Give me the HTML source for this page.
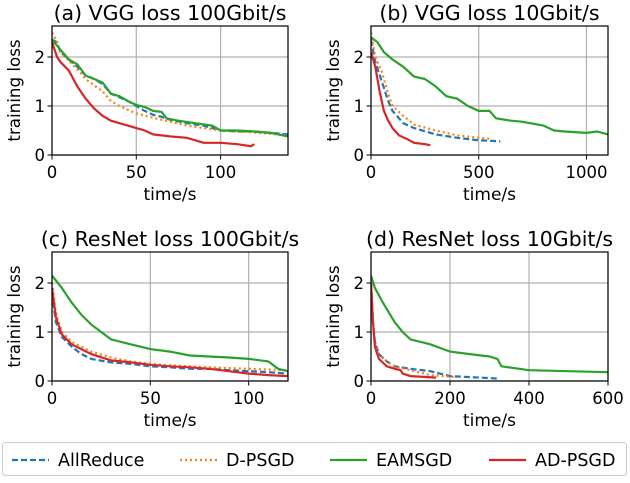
<!DOCTYPE html>
<html><head><meta charset="utf-8"><style>
body{margin:0;background:#fff;}
svg text{font-family:"DejaVu Sans","Liberation Sans",sans-serif;fill:#000;}
</style></head><body>
<svg id="fig" width="630" height="478" viewBox="0 0 630 478" xmlns="http://www.w3.org/2000/svg"></svg>
<script>
const seriesNames = ["AllReduce","D-PSGD","EAMSGD","AD-PSGD"];
const colors = ["#1f77b4","#ff7f0e","#2ca02c","#d62728"];
const dashes = ["6,3","2,3","",""];
const titles = ["(a) VGG loss 100Gbit/s","(b) VGG loss 10Gbit/s","(c) ResNet loss 100Gbit/s","(d) ResNet loss 10Gbit/s"];
const xMaxes = [140,1100,120,600];
const xTicksA = [0,50,100];
const xTicksB = [0,500,1000];
const xTicksC = [0,50,100];
const xTicksD = [0,200,400,600];
const yTicks = [0,1,2];
const aAllReduce=[[0,2.35],[3,2.3],[5,2.1],[10,1.95],[15,1.8],[20,1.62],[25,1.55],[30,1.45],[35,1.25],[40,1.18],[45,1.1],[50,1.0],[55,0.9],[60,0.82],[65,0.78],[70,0.72],[80,0.65],[90,0.6],[100,0.5],[110,0.48],[120,0.48],[130,0.45],[140,0.42]];
const aDPSGD=[[0,2.5],[3,2.3],[5,2.1],[10,1.92],[15,1.75],[20,1.55],[25,1.42],[30,1.3],[35,1.1],[40,1.0],[45,0.92],[50,0.85],[60,0.76],[70,0.68],[80,0.6],[90,0.55],[100,0.5],[110,0.48],[120,0.46],[130,0.43],[140,0.4]];
const aEAMSGD=[[0,2.35],[5,2.15],[10,1.95],[15,1.85],[20,1.62],[25,1.55],[30,1.48],[35,1.25],[40,1.2],[45,1.1],[50,1.02],[55,0.98],[60,0.9],[65,0.88],[68,0.75],[75,0.7],[85,0.65],[95,0.6],[100,0.5],[110,0.5],[120,0.48],[130,0.45],[140,0.38]];
const aADPSGD=[[0,2.3],[3,2.0],[5,1.9],[10,1.72],[15,1.4],[20,1.15],[25,0.95],[30,0.8],[35,0.7],[40,0.65],[45,0.6],[50,0.55],[55,0.5],[60,0.42],[70,0.38],[80,0.35],[90,0.25],[100,0.25],[110,0.22],[118,0.18],[120,0.22]];
const bAllReduce=[[0,2.35],[20,1.9],[50,1.5],[80,1.1],[100,0.9],[150,0.65],[200,0.55],[300,0.42],[400,0.35],[500,0.3],[600,0.28]];
const bDPSGD=[[0,2.5],[20,2.0],[50,1.7],[80,1.25],[100,1.0],[150,0.8],[200,0.62],[300,0.5],[400,0.4],[500,0.35],[550,0.33]];
const bEAMSGD=[[0,2.4],[30,2.3],[60,2.1],[100,1.95],[150,1.8],[200,1.6],[250,1.55],[300,1.4],[350,1.2],[400,1.15],[450,1.0],[500,0.9],[550,0.9],[580,0.75],[650,0.7],[700,0.68],[800,0.6],[850,0.5],[900,0.48],[1000,0.45],[1050,0.48],[1100,0.42]];
const bADPSGD=[[0,2.1],[20,1.8],[40,1.3],[60,0.9],[80,0.7],[100,0.55],[130,0.4],[170,0.32],[200,0.25],[250,0.22],[275,0.2]];
const cAllReduce=[[0,1.8],[2,1.2],[5,0.9],[10,0.7],[15,0.55],[20,0.45],[30,0.38],[40,0.35],[50,0.3],[60,0.28],[70,0.25],[80,0.25],[90,0.22],[100,0.2],[110,0.18],[120,0.15]];
const cDPSGD=[[0,2.0],[2,1.4],[5,1.0],[10,0.8],[20,0.6],[30,0.48],[40,0.4],[50,0.35],[60,0.32],[80,0.28],[100,0.25],[120,0.22]];
const cEAMSGD=[[0,2.15],[5,1.9],[10,1.6],[15,1.35],[20,1.15],[25,1.0],[30,0.85],[40,0.75],[50,0.65],[60,0.6],[70,0.52],[80,0.5],[90,0.48],[100,0.45],[110,0.4],[115,0.25],[120,0.2]];
const cADPSGD=[[0,1.9],[2,1.3],[5,0.95],[10,0.75],[20,0.55],[30,0.42],[40,0.38],[50,0.33],[60,0.3],[70,0.28],[80,0.25],[90,0.2],[100,0.15],[110,0.12],[120,0.1]];
const dAllReduce=[[0,2.0],[5,1.2],[10,0.8],[20,0.55],[40,0.4],[60,0.3],[100,0.25],[150,0.2],[200,0.1],[250,0.08],[325,0.05]];
const dDPSGD=[[0,2.0],[5,1.2],[10,0.8],[20,0.55],[40,0.4],[60,0.3],[100,0.22],[150,0.12],[215,0.08]];
const dEAMSGD=[[0,2.15],[10,1.9],[30,1.6],[60,1.2],[80,1.0],[100,0.85],[150,0.75],[200,0.6],[250,0.55],[300,0.5],[320,0.45],[330,0.3],[400,0.22],[500,0.2],[600,0.18]];
const dADPSGD=[[0,2.0],[5,1.2],[10,0.7],[20,0.45],[40,0.3],[60,0.25],[75,0.22],[80,0.15],[100,0.1],[165,0.07]];

const NS="http://www.w3.org/2000/svg";
const svg=document.getElementById('fig');
function mk(tag,attrs,parent){const e=document.createElementNS(NS,tag);for(const k in attrs)e.setAttribute(k,attrs[k]);(parent||svg).appendChild(e);return e;}
const panels=[
 {L:52,R:288,T:26,B:155,ticks:xTicksA,data:[aAllReduce,aDPSGD,aEAMSGD,aADPSGD]},
 {L:371,R:608,T:26,B:155,ticks:xTicksB,data:[bAllReduce,bDPSGD,bEAMSGD,bADPSGD]},
 {L:52,R:288,T:252,B:381,ticks:xTicksC,data:[cAllReduce,cDPSGD,cEAMSGD,cADPSGD]},
 {L:371,R:608,T:252,B:381,ticks:xTicksD,data:[dAllReduce,dDPSGD,dEAMSGD,dADPSGD]}
];
const YMAX=(155-26)/49;
panels.forEach((p,i)=>{
 const g=mk('g',{});
 
 
 const xs=v=>p.L+(v/xMaxes[i])*(p.R-p.L);
 const ys=v=>p.B-(v/YMAX)*(p.B-p.T);
 p.ticks.forEach(t=>{
  const x=xs(t);
  const gl=mk('line',{x1:x,x2:x,y1:p.T,y2:p.B,stroke:'#b0b0b0','stroke-width':1.2},g);
  
  
  mk('line',{x1:x,x2:x,y1:p.B,y2:p.B+4.5,stroke:'#000','stroke-width':1},g);
  const tx=mk('text',{x:x,y:p.B+23,'font-size':16.5,'text-anchor':'middle'},g);
  tx.textContent=t;
  
  
 });
 yTicks.forEach(t=>{
  const y=ys(t);
  const gl=mk('line',{x1:p.L,x2:p.R,y1:y,y2:y,stroke:'#b0b0b0','stroke-width':1.2},g);
  
  
  mk('line',{x1:p.L-4.5,x2:p.L,y1:y,y2:y,stroke:'#000','stroke-width':1},g);
  const tx=mk('text',{x:p.L-7,y:y+6,'font-size':16.5,'text-anchor':'end'},g);
  tx.textContent=t;
  
  
 });
 const cid='clip'+i;
 const cp=mk('clipPath',{id:cid},g);
 mk('rect',{x:p.L,y:p.T,width:p.R-p.L,height:p.B-p.T},cp);
 p.data.forEach((d,s)=>{
  const pts=d.map(q=>xs(q[0]).toFixed(1)+','+ys(q[1]).toFixed(1)).join(' ');
  const pl=mk('polyline',{points:pts,fill:'none',stroke:colors[s],'stroke-width':2.2,'stroke-dasharray':dashes[s],'clip-path':'url(#'+cid+')'},g);
  
  
 });
 const fr=mk('rect',{x:p.L,y:p.T,width:p.R-p.L,height:p.B-p.T,fill:'none',stroke:'#000','stroke-width':1.2},g);
 
 
 const ti=mk('text',{x:(p.L+p.R)/2,y:p.T-6,'font-size':20.5,'text-anchor':'middle'},g);
 ti.textContent=titles[i];
 
 
 const xl=mk('text',{x:(p.L+p.R)/2,y:p.B+45,'font-size':17,'text-anchor':'middle'},g);
 xl.textContent='time/s';
 
 
 const yx=p.L-32, yy=(p.T+p.B)/2;
 const yl=mk('text',{x:yx,y:yy,'font-size':16.7,'text-anchor':'middle',transform:'rotate(-90 '+yx+' '+yy+')'},g);
 yl.textContent='training loss';
 
 
});
// legend
const lg=mk('g',{});


mk('rect',{x:2.5,y:442.5,width:624,height:33,rx:3,fill:'#fff',stroke:'#ccc','stroke-width':1},lg);
const lx=[12,180,330,489];
seriesNames.forEach((n,s)=>{
 const e=mk('g',{},lg);
 
 
 mk('line',{x1:lx[s],x2:lx[s]+37,y1:460,y2:460,stroke:colors[s],'stroke-width':2.2,'stroke-dasharray':dashes[s]},e);
 const t=mk('text',{x:lx[s]+46,y:466,'font-size':17.5},e);
 t.textContent=n;
});
</script>
</body></html>
